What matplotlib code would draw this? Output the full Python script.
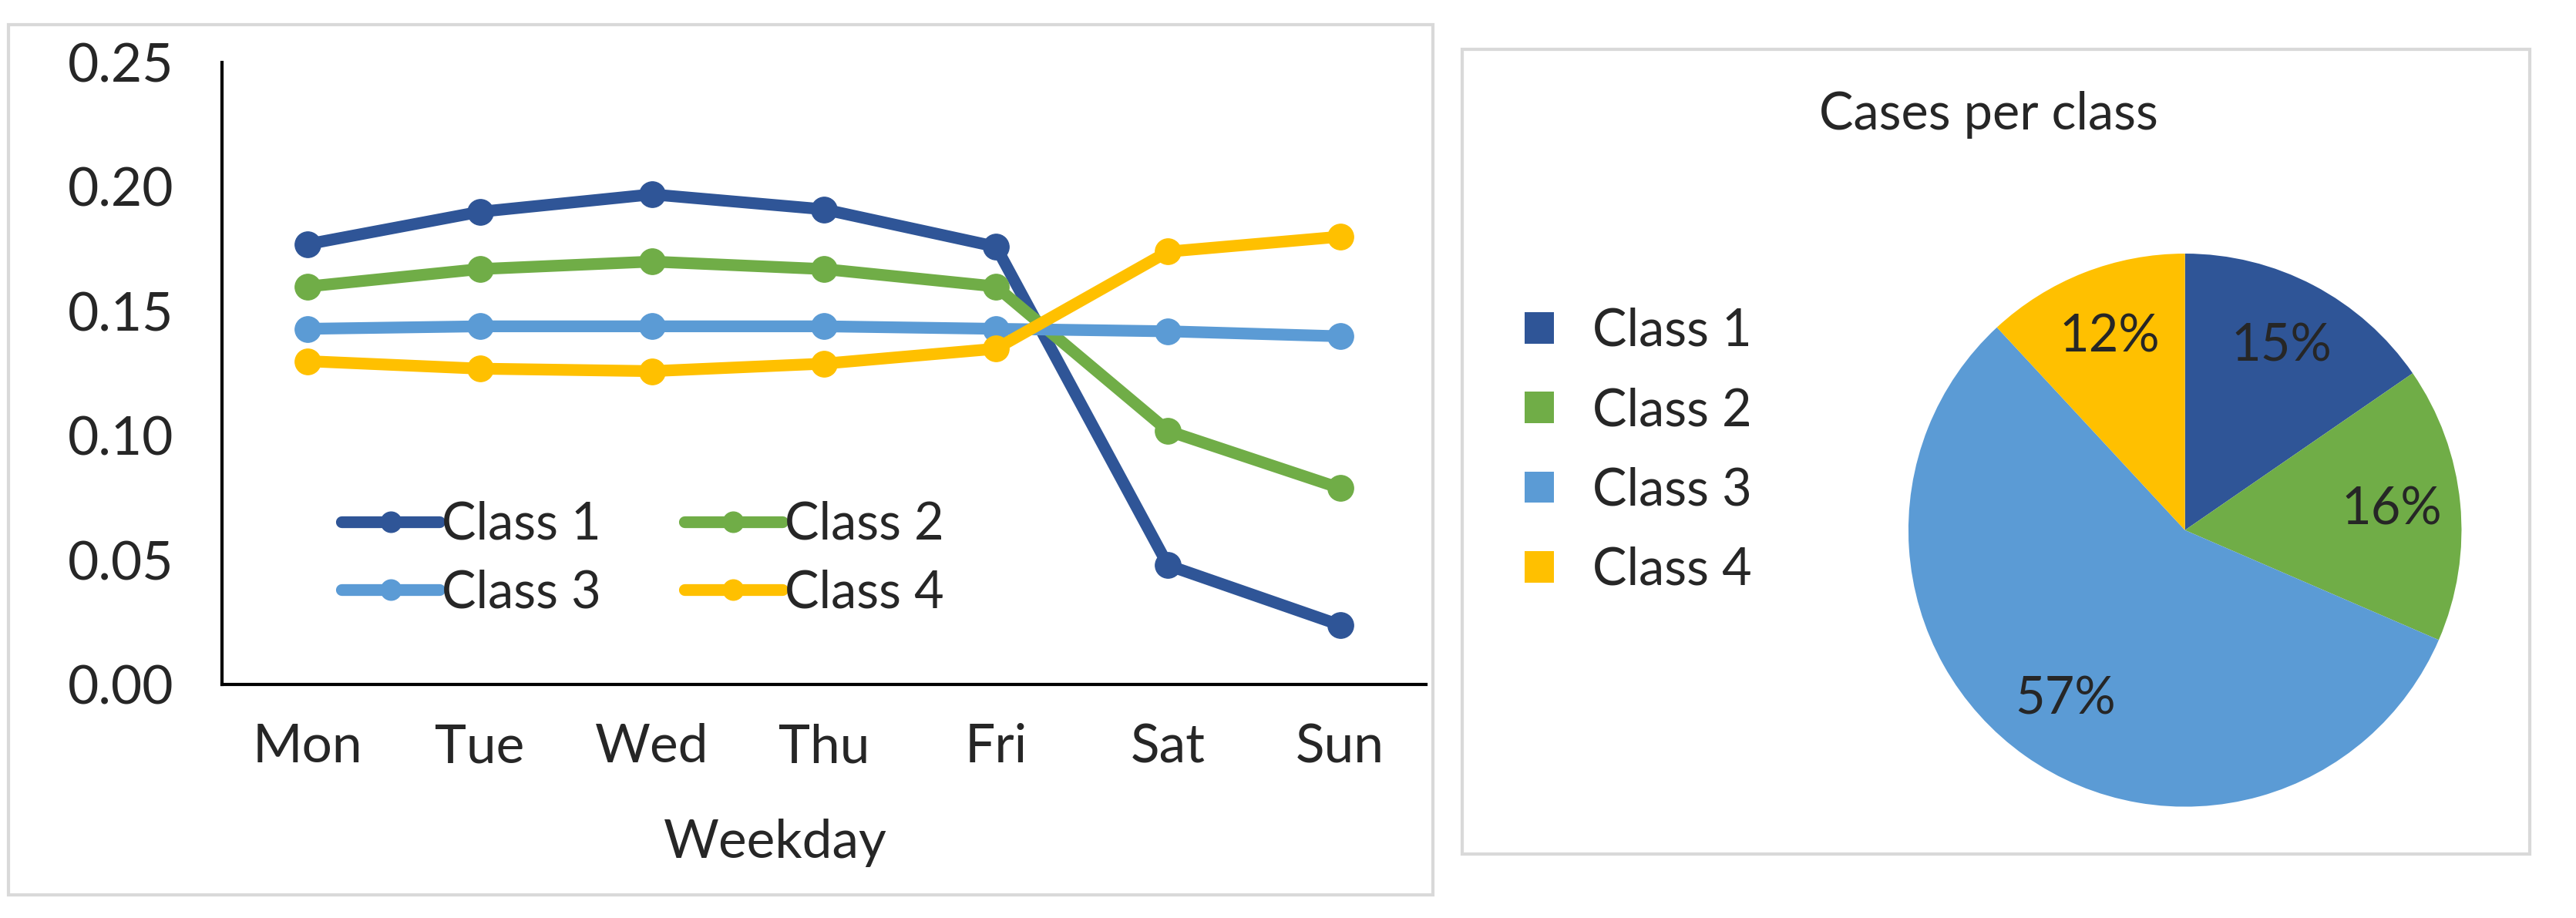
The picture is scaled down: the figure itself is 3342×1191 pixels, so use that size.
import numpy as np
import matplotlib
matplotlib.use('Agg')
import matplotlib.pyplot as plt
from matplotlib.patches import Rectangle

plt.rcParams['font.family'] = ['Lato', 'DejaVu Sans']

days = ['Mon', 'Tue', 'Wed', 'Thu', 'Fri', 'Sat', 'Sun']
class1 = [0.177, 0.190, 0.197, 0.191, 0.176, 0.048, 0.024]
class2 = [0.160, 0.167, 0.170, 0.167, 0.160, 0.102, 0.079]
class3 = [0.143, 0.144, 0.144, 0.144, 0.143, 0.142, 0.140]
class4 = [0.130, 0.127, 0.126, 0.129, 0.135, 0.174, 0.180]
class_names = ['Class 1', 'Class 2', 'Class 3', 'Class 4']
shares = [0.154, 0.161, 0.566, 0.119]
colors = ['#2F5597', '#70AD47', '#5B9BD5', '#FFC000']
text_col = '#262626'

fig = plt.figure(figsize=(33.42, 11.91), dpi=100)

# panel frames
fig.patches.append(Rectangle((0.0032, 0.025), 0.553, 0.948, transform=fig.transFigure,
                             fill=False, edgecolor='#D9D9D9', linewidth=3))
fig.patches.append(Rectangle((0.5676, 0.070), 0.4144, 0.876, transform=fig.transFigure,
                             fill=False, edgecolor='#D9D9D9', linewidth=3))

# line chart
ax = fig.add_axes([0.0861, 0.254, 0.4675, 0.678])
x = np.arange(len(days))
lines = []
for vals, name, c in zip([class1, class2, class3, class4], class_names, colors):
    ln, = ax.plot(x, vals, color=c, linewidth=11, marker='o', markersize=24,
                  label=name, solid_capstyle='round', solid_joinstyle='round')
    lines.append(ln)
ax.set_xlim(-0.5, 6.5)
ax.set_ylim(0, 0.25)
ax.set_yticks([0, 0.05, 0.10, 0.15, 0.20, 0.25])
ax.set_yticklabels(['0.00', '0.05', '0.10', '0.15', '0.20', '0.25'])
ax.set_xticks(x)
ax.set_xticklabels(days)
ax.tick_params(axis='both', length=0, labelsize=50, colors=text_col)
ax.tick_params(axis='y', pad=45)
ax.tick_params(axis='x', pad=36)
ax.spines['top'].set_visible(False)
ax.spines['right'].set_visible(False)
for s in ['left', 'bottom']:
    ax.spines[s].set_linewidth(3)

# row-wise legend order: Class 1, Class 2 / Class 3, Class 4
order = [0, 2, 1, 3]
leg = ax.legend([lines[i] for i in order], [class_names[i] for i in order], ncol=2,
                loc='upper left', bbox_to_anchor=(0.0996, 0.2955), frameon=False,
                fontsize=48, handlelength=1.9, handletextpad=0.05, columnspacing=1.62,
                labelspacing=0.4, borderaxespad=0, borderpad=0, markerscale=0.8)
for t in leg.get_texts():
    t.set_color(text_col)
fig.text(0.301, 0.082, 'Weekday', ha='center', va='center', fontsize=50, color=text_col)

# pie chart
pax = fig.add_axes([0.7387, 0.115, 0.219, 0.615])
wedges, texts, autotexts = pax.pie(shares, colors=colors, startangle=90, counterclock=False,
                                   autopct=lambda p: '%d%%' % round(p), pctdistance=0.75,
                                   textprops={'fontsize': 48, 'color': text_col})
pax.set_aspect('equal')
pax.set_xlim(-1.02, 1.02)
pax.set_ylim(-1.02, 1.02)
fig.text(0.772, 0.875, 'Cases per class', ha='center', va='center', fontsize=48, color=text_col)
pleg = fig.legend(wedges, class_names, loc='upper left', bbox_to_anchor=(0.592, 0.665),
                  frameon=False, fontsize=48, handlelength=0.56, handleheight=0.56,
                  handletextpad=0.75, labelspacing=0.62, borderpad=0, borderaxespad=0)
for t in pleg.get_texts():
    t.set_color(text_col)

fig.savefig('out.png', dpi=100)
